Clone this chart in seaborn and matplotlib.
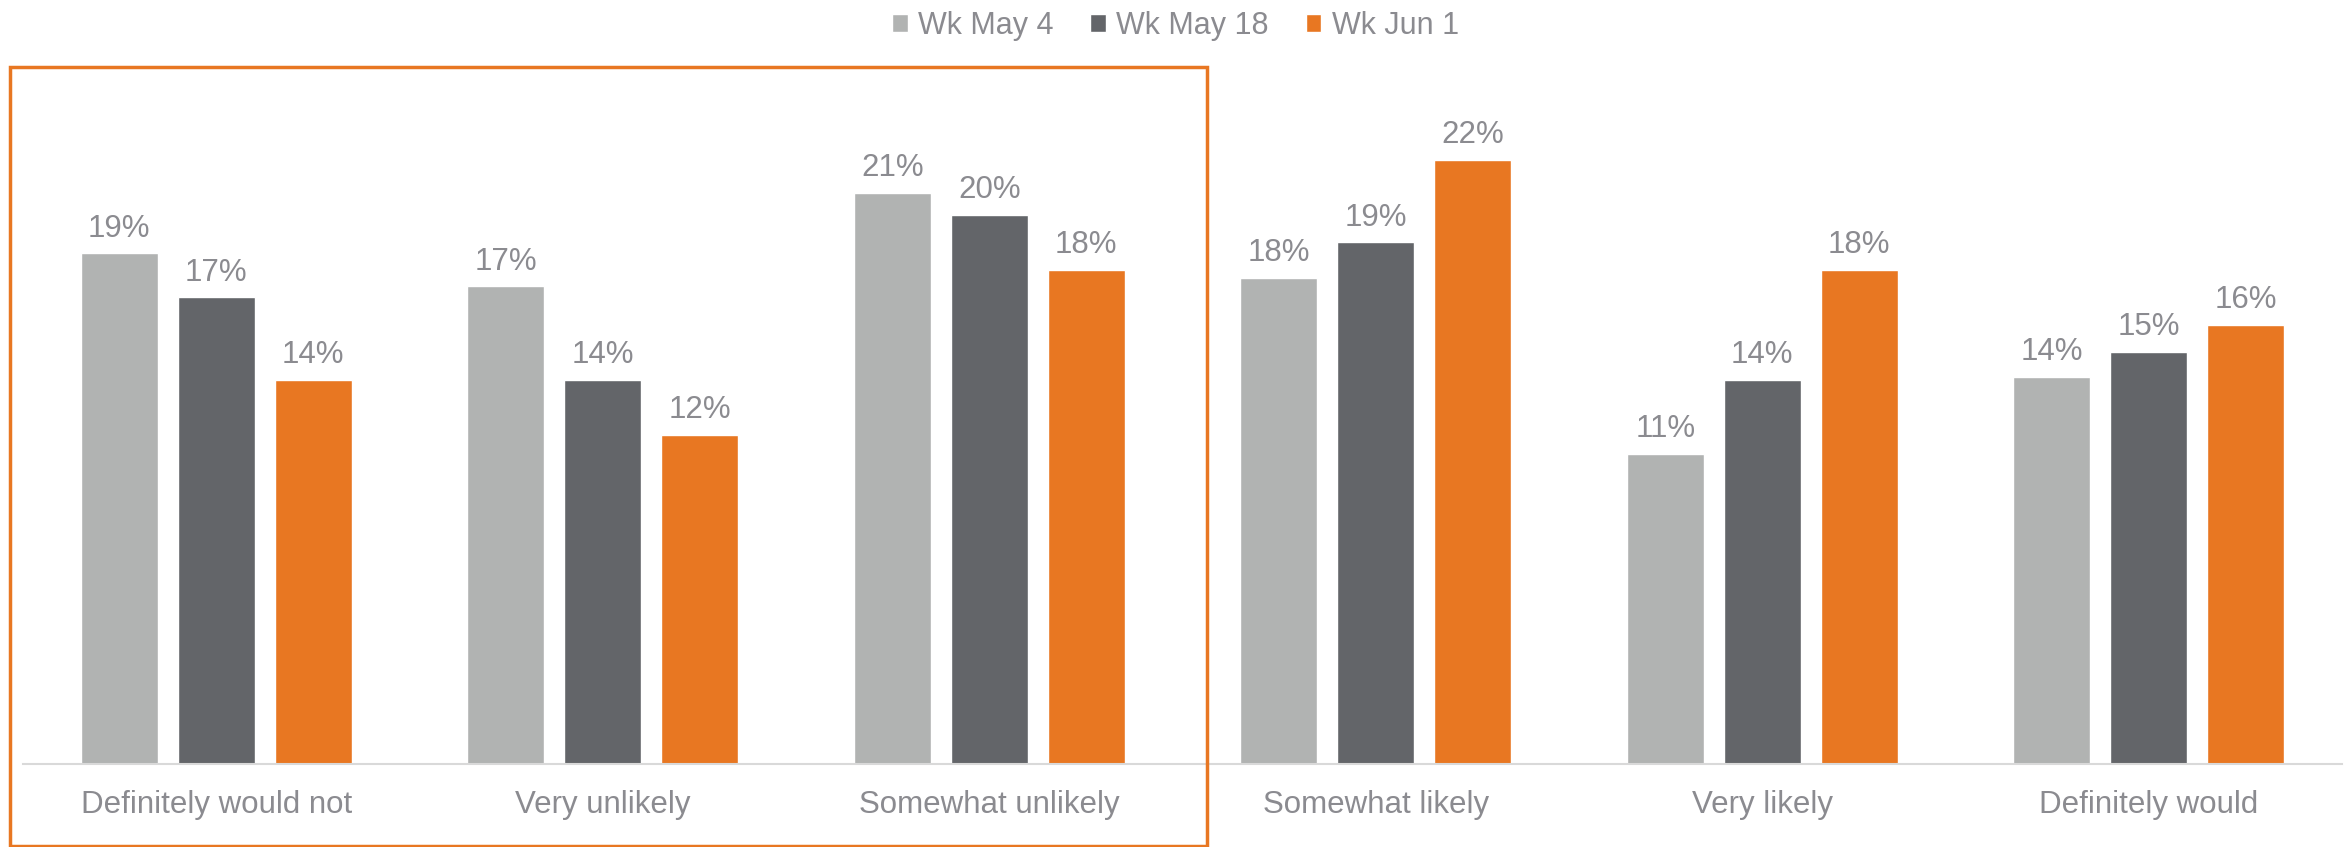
import matplotlib
matplotlib.use("Agg")
import matplotlib.pyplot as plt
import seaborn as sns
import pandas as pd
from matplotlib.patches import Rectangle

# Survey answers and weekly shares (%)
categories = ["Definitely would not", "Very unlikely", "Somewhat unlikely",
              "Somewhat likely", "Very likely", "Definitely would"]
weeks = ["Wk May 4", "Wk May 18", "Wk Jun 1"]
wk_may_4 = [18.6, 17.4, 20.8, 17.7, 11.3, 14.1]
wk_may_18 = [17.0, 14.0, 20.0, 19.0, 14.0, 15.0]
wk_jun_1 = [14.0, 12.0, 18.0, 22.0, 18.0, 16.0]

colors = ["#b1b3b2", "#636569", "#e87722"]
text_gray = "#8b8b90"

df = pd.DataFrame({
    "category": categories * 3,
    "week": [w for w in weeks for _ in categories],
    "value": wk_may_4 + wk_may_18 + wk_jun_1,
})

sns.set_theme(style="white")
plt.rcParams["font.family"] = ["Liberation Sans", "DejaVu Sans"]

W, H = 2351, 847
fig = plt.figure(figsize=(W / 100, H / 100), dpi=100)
ax = fig.add_axes([23 / W, 1 - 764 / H, (2342 - 23) / W, (764 - 77.6) / H])

sns.barplot(data=df, x="category", y="value", hue="week", order=categories,
            hue_order=weeks, palette=colors, saturation=1, errorbar=None,
            width=0.753, gap=0.207, ax=ax)

for cont in ax.containers:
    ax.bar_label(cont, labels=[f"{round(v)}%" for v in cont.datavalues],
                 padding=7, fontsize=22.5, color=text_gray)

ax.set_ylim(0, 25)
ax.set_xlim(-0.5, len(categories) - 0.5)
ax.set_xlabel("")
ax.set_ylabel("")
ax.set_yticks([])
for side in ["top", "left", "right"]:
    ax.spines[side].set_visible(False)
ax.spines["bottom"].set_color("#d9d9d9")
ax.spines["bottom"].set_linewidth(1.5)
ax.tick_params(axis="x", length=0, pad=19, labelsize=22.5, labelcolor=text_gray)

handles, labels = ax.get_legend_handles_labels()
ax.get_legend().remove()
fig.legend(handles, labels, loc="upper center", bbox_to_anchor=(0.5, 1 - 8 / H),
           ncol=3, frameon=False, fontsize=22, labelcolor=text_gray,
           handlelength=0.52, handleheight=0.52, handletextpad=0.33,
           columnspacing=1.2, borderaxespad=0, borderpad=0.1)

# Highlight box around the unlikely answers
fig.add_artist(Rectangle((10 / W, 1 - 846 / H), (1207 - 10) / W, (846 - 67) / H,
                         transform=fig.transFigure, fill=False,
                         edgecolor="#e87722", linewidth=2.5))

fig.savefig("out.png", dpi=100)
